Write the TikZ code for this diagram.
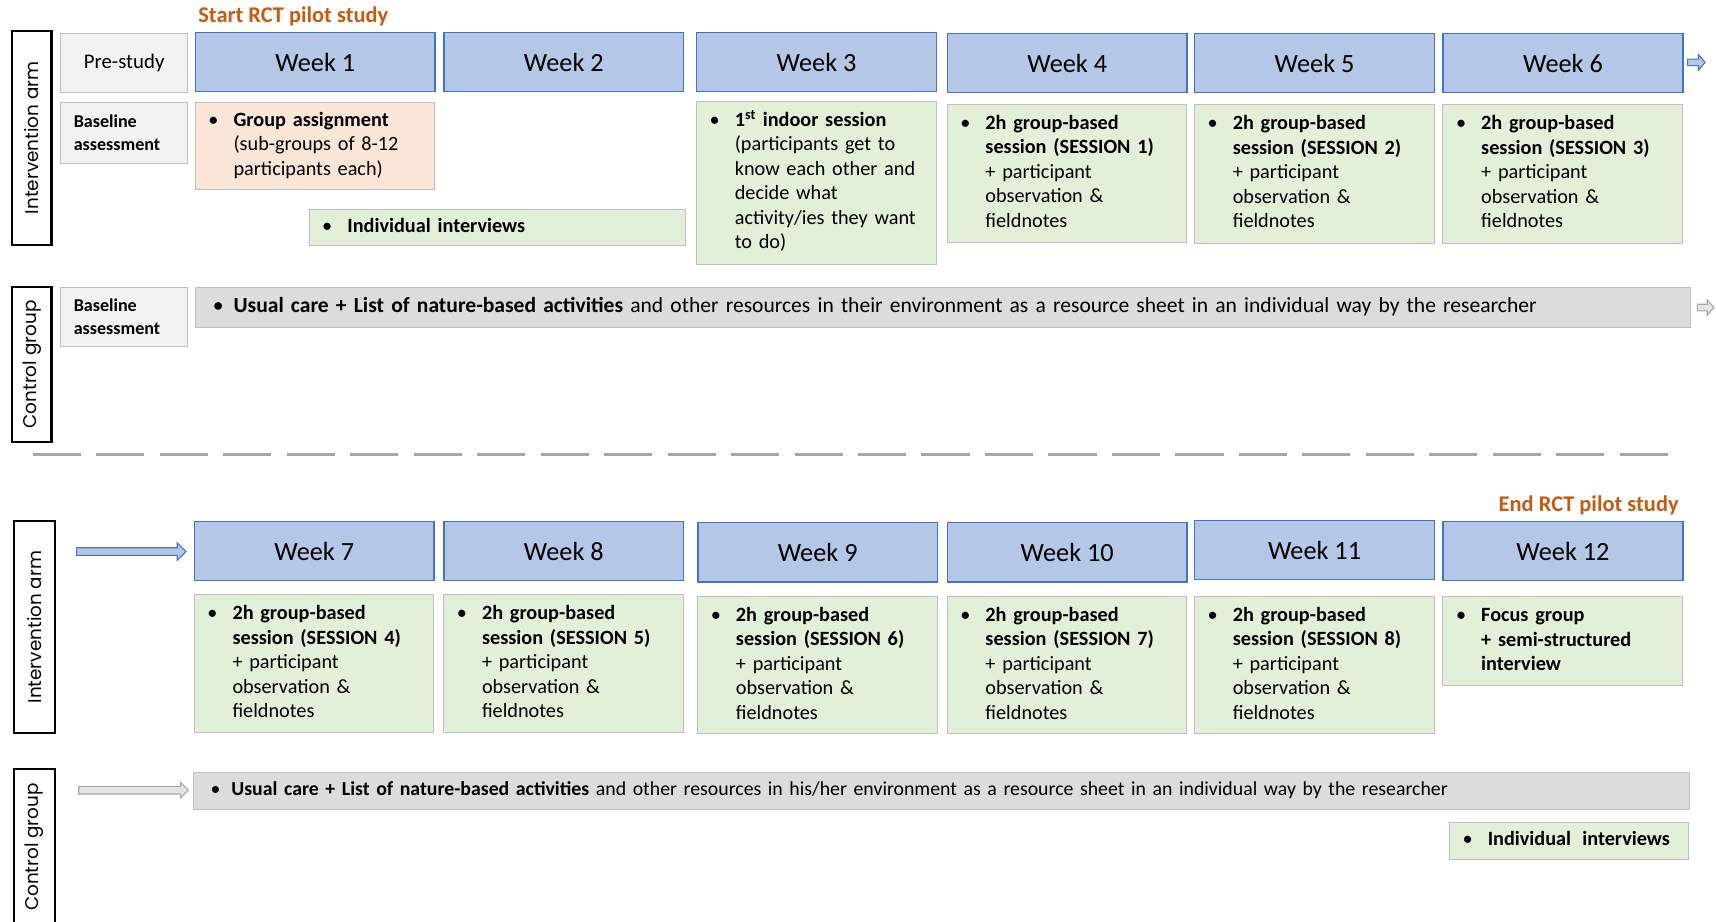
\documentclass[tikz,border=0pt]{standalone}
\usepackage{fontspec}
\setmainfont{Carlito}
\newfontfamily\labfont{Poppins}
\usetikzlibrary{calc}

\definecolor{weekfill}{HTML}{B4C7E7}
\definecolor{weekline}{HTML}{4472C4}
\definecolor{greenfill}{HTML}{E2F0D9}
\definecolor{peachfill}{HTML}{FBE5D6}
\definecolor{palegray}{HTML}{F2F2F2}
\definecolor{barfill}{HTML}{DCDCDC}
\definecolor{boxline}{HTML}{BFBFBF}
\definecolor{orangetxt}{HTML}{C55A11}
\definecolor{dashgray}{HTML}{A6A6A6}
\definecolor{arrowgray}{HTML}{E4E4E4}

% bullet followed by a block of left-aligned lines
\newcommand\bul[2][23pt]{\makebox[#1][l]{\textbullet}\begin{tabular}[t]{@{}l@{}}#2\end{tabular}}
\newcommand\bodyfont{\fontsize{18.5}{22.4}\selectfont}

% block arrow: x-start, x-end, y, shaft half-width, head half-width, head length, style
\newcommand\blockarrow[7]{%
  \draw[#7] (#1,#3-#4) -- (#2-#6,#3-#4) -- (#2-#6,#3-#5) -- (#2,#3)
    -- (#2-#6,#3+#5) -- (#2-#6,#3+#4) -- (#1,#3+#4) -- cycle;}

\begin{document}
\begin{tikzpicture}[x=1pt,y=-1pt,
  week/.style={anchor=north west, draw=weekline, fill=weekfill, line width=1.3pt,
    minimum width=219pt, minimum height=54pt, inner sep=0pt,
    font=\fontsize{24}{28}\selectfont},
  cbox/.style={anchor=north west, align=left, inner xsep=12pt, inner ysep=0pt,
    draw=boxline, line width=0.9pt, font=\bodyfont},
  gbox/.style={cbox, fill=greenfill},
  pbox/.style={cbox, fill=peachfill},
  sbox/.style={cbox, fill=palegray},
  ubar/.style={cbox, fill=barfill, inner xsep=16pt},
  basefont/.style={font=\bfseries\fontsize{16.5}{21}\selectfont},
  armlabel/.style={draw=black, line width=2pt, fill=white, rotate=90, inner sep=0pt,
    font=\labfont\fontsize{16.8}{20}\selectfont},
  milestone/.style={text=orangetxt, inner sep=0pt, font=\bfseries\fontsize{20.5}{24}\selectfont},
  bluearrow/.style={draw=weekline, fill=weekfill, line width=1pt, line join=miter},
  grayarrow/.style={draw=dashgray, fill=arrowgray, line width=1pt, line join=miter},
]
\useasboundingbox (0,0) rectangle (1568,842);
\clip (0,0) rectangle (1568,842);

% ---------------- weeks 1-6 ----------------
\node[milestone] (start) at (268,15) {Start RCT pilot study};
\node[armlabel, minimum width=196pt, minimum height=36pt] (arm1) at (29,126) {Intervention arm};

\node[sbox, align=center, text width=92pt, minimum height=54pt,
      font=\fontsize{19}{22}\selectfont] (pre) at (55,30) {Pre-study};
\node[sbox, basefont, text width=92pt, minimum height=56pt]
      (base1) at (55,93) {Baseline\\assessment};

\node[week] (w1) at (178,29) {Week 1};
\node[week] (w2) at (405,29) {Week 2};
\node[week] (w3) at (636,29) {Week 3};
\node[week] (w4) at (865,30) {Week 4};
\node[week] (w5) at (1091,30) {Week 5};
\node[week] (w6) at (1318,30) {Week 6};
\blockarrow{1542}{1558}{57}{3}{7}{6}{bluearrow}

\node[pbox, text width=195pt, minimum height=80pt] (grp) at (178,93)
  {\bul{\textbf{Group assignment}\\(sub-groups of 8-12\\participants each)}};
\node[gbox, text width=320pt, minimum height=33pt] (int1) at (282,191)
  {\bul{\textbf{Individual interviews}}};
\node[gbox, text width=195pt, minimum height=149pt] (s0) at (636,92)
  {\bul{\textbf{1\textsuperscript{st} indoor session}\\(participants get to\\know each other and\\decide what\\activity/ies they want\\to do)}};
\node[gbox, text width=195pt, minimum height=126pt] (s1) at (865,95)
  {\bul{\textbf{2h group-based}\\\textbf{session (SESSION 1)}\\+ participant\\observation \&\\fieldnotes}};
\node[gbox, text width=195pt, minimum height=127pt] (s2) at (1091,95)
  {\bul{\textbf{2h group-based}\\\textbf{session (SESSION 2)}\\+ participant\\observation \&\\fieldnotes}};
\node[gbox, text width=195pt, minimum height=127pt] (s3) at (1318,95)
  {\bul{\textbf{2h group-based}\\\textbf{session (SESSION 3)}\\+ participant\\observation \&\\fieldnotes}};

% control group, first half
\node[armlabel, minimum width=142pt, minimum height=36pt] (ctl1) at (29,333) {Control group};
\node[sbox, basefont, text width=92pt, minimum height=54pt]
      (base2) at (55,262) {Baseline\\assessment};
\node[ubar, text width=1334pt, minimum height=37pt, font=\fontsize{19.7}{23}\selectfont] (uc1) at (178,262)
  {\bul[19pt]{\textbf{Usual care + List of nature-based activities} and other resources in their environment as a resource sheet in an individual way by the researcher}};
\blockarrow{1551}{1566}{281}{3}{7}{6}{grayarrow}

% separator between the two halves
\draw[dashgray, line width=3pt, dash pattern=on 44pt off 14pt] (30,415) -- (1527,415);

% ---------------- weeks 7-12 ----------------
\node[milestone, anchor=east] (end) at (1534,462) {End RCT pilot study};
\node[armlabel, minimum width=194pt, minimum height=37pt] (arm2) at (31.5,573) {Intervention arm};
\blockarrow{70}{170}{504}{3.5}{8}{8}{bluearrow}

\node[week] (w7) at (177,476) {Week 7};
\node[week] (w8) at (405,476) {Week 8};
\node[week] (w9) at (637,477) {Week 9};
\node[week] (w10) at (865,477) {Week 10};
\node[week] (w11) at (1091,475) {Week 11};
\node[week] (w12) at (1318,476) {Week 12};

\node[gbox, text width=195pt, minimum height=126pt] (s4) at (177,543)
  {\bul{\textbf{2h group-based}\\\textbf{session (SESSION 4)}\\+ participant\\observation \&\\fieldnotes}};
\node[gbox, text width=195pt, minimum height=126pt] (s5) at (405,543)
  {\bul{\textbf{2h group-based}\\\textbf{session (SESSION 5)}\\+ participant\\observation \&\\fieldnotes}};
\node[gbox, text width=195pt, minimum height=125pt] (s6) at (637,545)
  {\bul{\textbf{2h group-based}\\\textbf{session (SESSION 6)}\\+ participant\\observation \&\\fieldnotes}};
\node[gbox, text width=195pt, minimum height=125pt] (s7) at (865,545)
  {\bul{\textbf{2h group-based}\\\textbf{session (SESSION 7)}\\+ participant\\observation \&\\fieldnotes}};
\node[gbox, text width=195pt, minimum height=125pt] (s8) at (1091,545)
  {\bul{\textbf{2h group-based}\\\textbf{session (SESSION 8)}\\+ participant\\observation \&\\fieldnotes}};
\node[gbox, text width=195pt, minimum height=81pt] (fg) at (1318,545)
  {\bul{\textbf{Focus group}\\\textbf{+ semi-structured}\\\textbf{interview}}};

% control group, second half
\node[armlabel, minimum width=142pt, minimum height=37pt] (ctl2) at (31.5,774) {Control group};
\blockarrow{72}{172}{722}{3.5}{7}{7}{grayarrow}
\node[ubar, text width=1335pt, minimum height=34pt, font=\fontsize{18.1}{21}\selectfont] (uc2) at (176,705)
  {\bul[19pt]{\textbf{Usual care + List of nature-based activities} and other resources in his/her environment as a resource sheet in an individual way by the researcher}};
\node[gbox, text width=194pt, minimum height=34pt] (int2) at (1324,751)
  {\bul{\textbf{Individual\hspace{0.55em}interviews}}};
\end{tikzpicture}
\end{document}
